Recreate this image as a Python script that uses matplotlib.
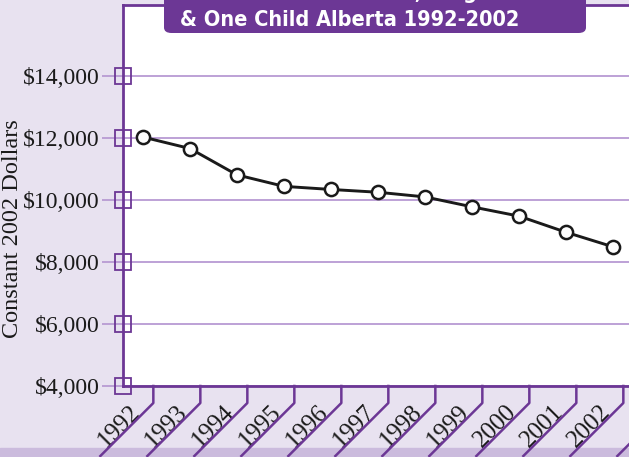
import matplotlib.pyplot as plt
import numpy as np
from matplotlib import font_manager
from matplotlib.font_manager import FontProperties
from matplotlib.patches import FancyBboxPatch, Rectangle
from matplotlib.lines import Line2D
from matplotlib.ticker import FuncFormatter

years = ["1992", "1993", "1994", "1995", "1996", "1997", "1998", "1999", "2000", "2001", "2002"]
dollars = [12030, 11660, 10810, 10440, 10340, 10250, 10100, 9780, 9480, 8960, 8490]
yticks = [4000, 6000, 8000, 10000, 12000, 14000]
title_top = "Welfare Incomes, Single"
title_bottom = "& One Child Alberta 1992-2002"

bg = "#e8e2f0"
dark = "#6c3795"
grid_c = "#b89ad3"
serif = ["Liberation Serif", "DejaVu Serif"]

def condensed_bold():
    # look for a narrow/condensed bold sans among installed fonts
    for f in font_manager.fontManager.ttflist:
        n = (f.name + " " + f.fname).lower()
        if ("condensed" in n or "narrow" in n or f.stretch in ("condensed", "semi-condensed")) \
                and f.weight in ("bold", 700, "semibold", 600) and "serif" not in f.name.lower() \
                and "mono" not in n and "oblique" not in n and "italic" not in n:
            return FontProperties(fname=f.fname)
    return FontProperties(family=["Roboto", "DejaVu Sans"], weight="bold")

W, H = 629, 457
fig = plt.figure(figsize=(W/100, H/100), dpi=100, facecolor=bg)

# axes box in pixels: left 123, right 629, top 5, bottom 386
ax = fig.add_axes([123/W, (H-386)/H, (W-123)/W, (386-5)/H])
ax.set_facecolor("white")

x = np.arange(len(years))
ax.set_xlim(-20/47, (W-143)/47)
ax.set_ylim(4000, 4000 + 381*1000/31)

ax.grid(axis="y", color=grid_c, lw=1.3)
ax.set_axisbelow(True)
ax.plot(x, dollars, color="#1a1a1a", lw=2.1, marker="o", ms=9.5, mfc="white",
        mec="#1a1a1a", mew=1.8, zorder=5)

ax.spines["right"].set_visible(False)
for s in ["left", "bottom", "top"]:
    ax.spines[s].set_color(dark)
    ax.spines[s].set_linewidth(2)

ax.set_yticks(yticks)
ax.yaxis.set_major_formatter(FuncFormatter(lambda v, p: "${:,.0f}".format(v)))
ax.tick_params(axis="y", length=15, width=1.3, color=grid_c, pad=2)
for lab in ax.get_yticklabels():
    lab.set_fontfamily(serif)
    lab.set_fontsize(17)
    lab.set_color("#1a1a1a")
ax.set_xticks([])

# square markers on the left axis at each gridline
ax.plot([0]*len(yticks), yticks, ls="none", marker="s", ms=12, mfc="none", mec=dark,
        mew=1.3, transform=ax.get_yaxis_transform(), clip_on=False, zorder=6)

ax.set_ylabel("Constant 2002 Dollars", fontfamily=serif, fontsize=17.5, color="#1a1a1a")
ax.yaxis.set_label_coords(-100/506, (386-229)/381)

# bottom band
fig.add_artist(Rectangle((0, 0), 1, 9/H, transform=fig.transFigure, color="#cbbbdd", zorder=0))

# slanted tick separators + year labels
fig.canvas.draw()
to_fig = fig.transFigure.inverted()
for i in range(len(years) + 1):
    px, _ = ax.transData.transform((i + 0.22, 4000))
    pts = np.array([[px, H-386], [px, H-403], [px-53, H-456]])
    pts = to_fig.transform(pts)
    fig.add_artist(Line2D(pts[:, 0], pts[:, 1], transform=fig.transFigure, color=dark, lw=1.8, zorder=3))
for i, yr in enumerate(years):
    ax.text(i - 24/47, -40/381, yr, transform=ax.get_xaxis_transform(), rotation=45,
            rotation_mode="anchor", ha="center", va="center", fontfamily=serif,
            fontsize=18, color="#1a1a1a")

# title box (top cut off)
box = FancyBboxPatch((164/W, (H-33)/H), (586-164)/W, 0.1, boxstyle="round,pad=0,rounding_size=0.012",
                     transform=fig.transFigure, facecolor=dark, edgecolor="none", zorder=4)
fig.add_artist(box)
fp = condensed_bold()
t2 = fig.text(180/W, (H-26)/H, title_bottom, color="white", fontproperties=fp, fontsize=20,
              ha="left", va="baseline", zorder=5)
r = fig.canvas.get_renderer()
w = t2.get_window_extent(r).width
size = min(20 * 340 / w, 22)
t2.set_fontsize(size)
# width of the part before the comma, so the comma lands where it does in the original
probe = fig.text(0, 0, "Welfare Incomes", fontproperties=fp, fontsize=size)
wp = probe.get_window_extent(r).width
probe.remove()
fig.text((415 - wp)/W, (H+1)/H, title_top, color="white", fontproperties=fp, fontsize=size,
         ha="left", va="baseline", zorder=5)

fig.savefig("out.png", dpi=100, facecolor=bg)
